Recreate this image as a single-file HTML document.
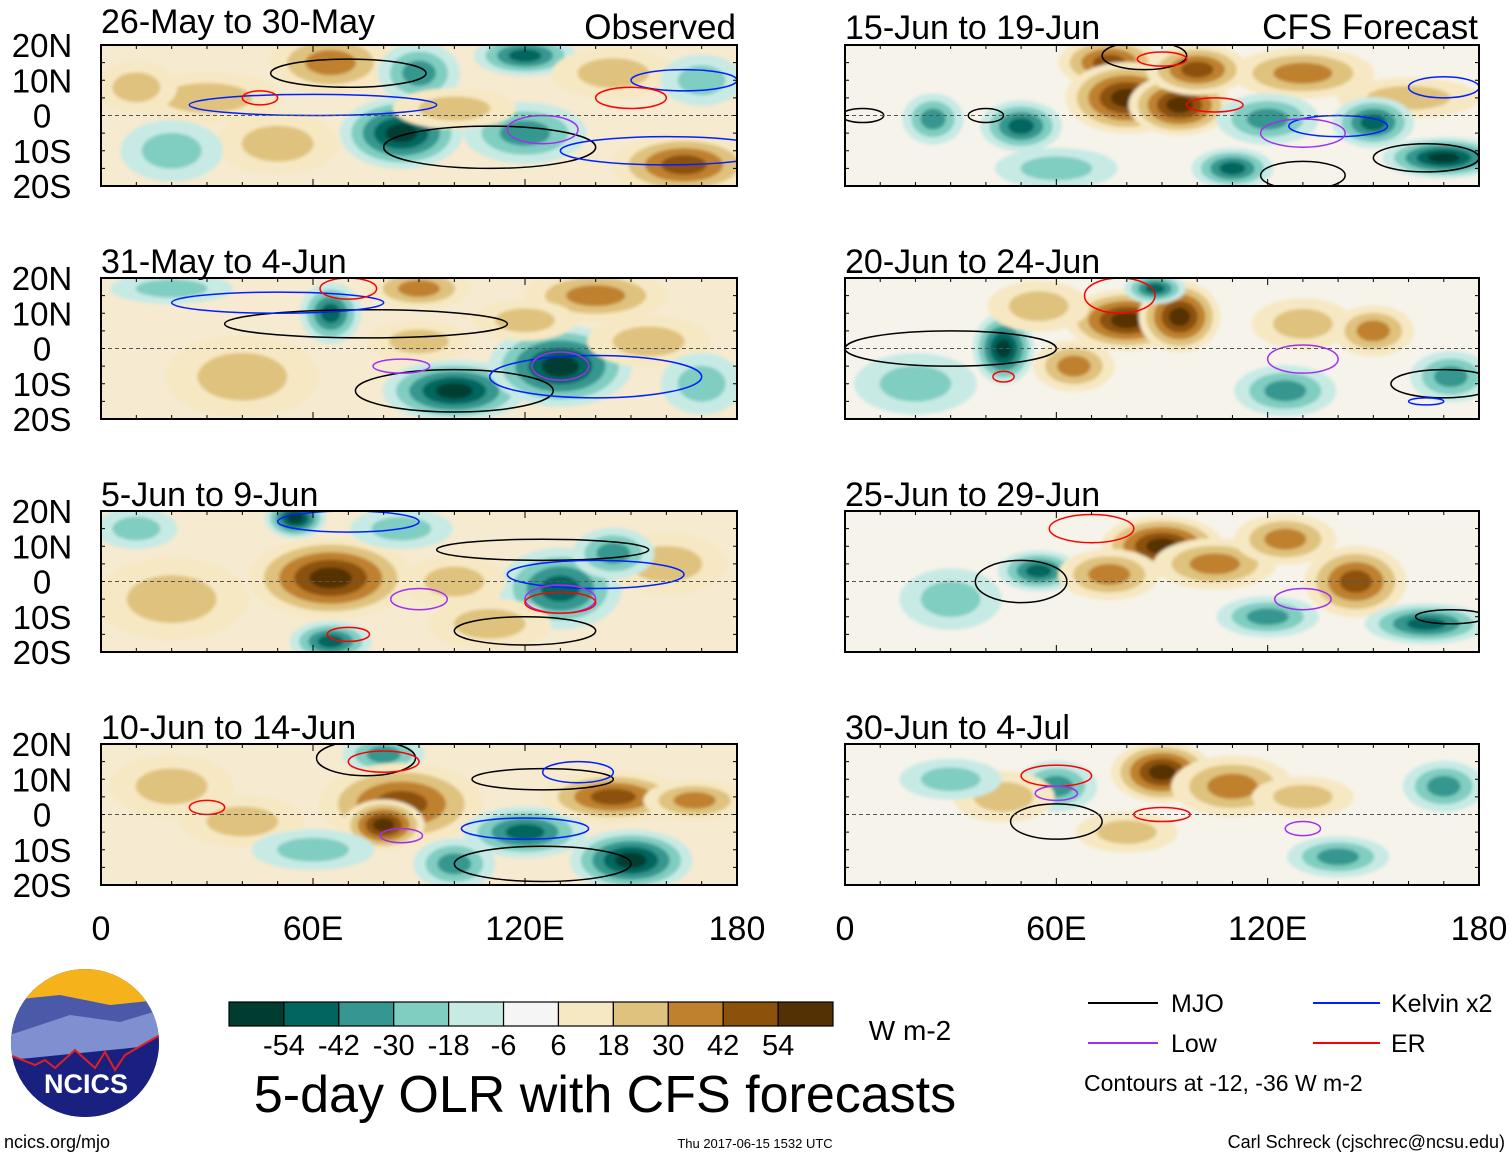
<!DOCTYPE html>
<html><head><meta charset="utf-8">
<style>
body{margin:0;background:#fff;width:1510px;height:1158px;overflow:hidden;font-family:"Liberation Sans",sans-serif}
svg{position:absolute;left:0;top:0}
</style></head>
<body>
<svg id="fig" width="1510" height="1158" viewBox="0 0 1510 1158">
<defs>
<filter id="blur" x="-10%" y="-10%" width="120%" height="120%"><feGaussianBlur stdDeviation="1.5"/></filter>
<clipPath id="logoClip"><circle cx="85" cy="1043" r="74"/></clipPath>
</defs>
<g id="panels"></g>
<g clip-path="url(#logoClip)">
<rect x="10" y="968" width="150" height="150" fill="#1a2080"/>
<rect x="10" y="968" width="150" height="40" fill="#f5b21a"/>
<path d="M10 1000 L60 995 L110 1005 L160 1000 L160 1030 L10 1040Z" fill="#4a5aa8"/>
<path d="M10 1035 L70 1015 L120 1022 L160 1010 L160 1045 L10 1060Z" fill="#7f90d0"/>
<path d="M10 1055 L35 1065 L45 1060 L55 1068 L75 1050 L95 1068 L105 1052 L115 1070 L125 1055 L160 1035 L160 1120 L10 1120Z" fill="#1a2080" stroke="#e02020" stroke-width="2"/>
</g>
<text x="86" y="1093" font-size="27" font-weight="bold" fill="#fff" text-anchor="middle">NCICS</text>
<text x="4" y="1148" font-size="18">ncics.org/mjo</text>
<text x="755" y="1148" font-size="13" text-anchor="middle">Thu 2017-06-15 1532 UTC</text>
<text x="1505" y="1148" font-size="18" text-anchor="end">Carl Schreck (cjschrec@ncsu.edu)</text>
<text x="605" y="1112" font-size="52" text-anchor="middle">5-day OLR with CFS forecasts</text>
<text x="910" y="1040" font-size="28" text-anchor="middle">W m-2</text>
<g id="cbar"></g>
<g font-size="25">
<line x1="1088" y1="1003" x2="1158" y2="1003" stroke="#000" stroke-width="2"/><text x="1171" y="1012">MJO</text>
<line x1="1313" y1="1003" x2="1380" y2="1003" stroke="#0020ff" stroke-width="2"/><text x="1391" y="1012">Kelvin x2</text>
<line x1="1088" y1="1043" x2="1158" y2="1043" stroke="#a030f0" stroke-width="2"/><text x="1171" y="1052">Low</text>
<line x1="1313" y1="1043" x2="1380" y2="1043" stroke="#ff0000" stroke-width="2"/><text x="1391" y="1052">ER</text>
<text x="1084" y="1091" font-size="23">Contours at -12, -36 W m-2</text>
</g>
</svg>
<script>
const NS='http://www.w3.org/2000/svg';
const colors=['#003c30','#01665e','#35978f','#80cdc1','#c7eae5','#f5f5f5','#f6e8c3','#dfc27d','#bf812d','#8c510a','#543005'];
const cbarLabels=['-54','-42','-30','-18','-6','6','18','30','42','54'];
const titles=['26-May to 30-May','31-May to 4-Jun','5-Jun to 9-Jun','10-Jun to 14-Jun','15-Jun to 19-Jun','20-Jun to 24-Jun','25-Jun to 29-Jun','30-Jun to 4-Jul'];
const latTicks=['20N','10N','0','10S','20S'];
const lonTicks=['0','60E','120E','180'];
// blobs: [lon, lat, rxDeg, ryDeg, level(-5..5)]
const blobs0=[[65,15,12,6,3],[90,12,8,6,-3],[85,-5,12,7,-5],[120,-5,12,6,-3],[165,-14,14,6,4],[30,5,15,5,2],[120,17,10,4,-4],[145,12,12,5,2],[50,-8,12,6,2],[10,8,8,5,2],[170,10,8,5,-2],[20,-10,10,6,-2],[100,2,12,4,2]];
const blobs1=[[65,10,6,6,-4],[90,17,10,4,3],[140,15,14,5,3],[100,-12,14,6,-5],[130,-5,14,8,-5],[90,2,10,4,2],[20,17,12,3,-2],[155,2,12,5,2],[40,-8,15,8,2],[170,-10,8,6,-2],[120,8,10,4,2]];
const blobs2=[[55,18,6,4,-5],[65,1,16,8,5],[130,-2,12,8,-4],[65,-17,8,4,-4],[100,0,10,5,2],[160,5,12,6,2],[145,8,8,5,-3],[20,-5,15,8,2],[110,-12,12,5,2],[10,15,8,4,-2],[85,15,10,4,-2]];
const blobs3=[[80,17,8,4,-3],[85,3,16,8,4],[80,-3,8,5,5],[120,-5,12,5,-4],[150,-13,12,6,-5],[145,5,14,5,4],[100,-14,8,5,-3],[168,4,10,4,3],[40,-2,12,5,2],[20,8,12,6,2],[60,-10,12,4,-2]];
const blobs4=[[75,15,10,5,4],[80,5,12,7,5],[95,3,10,6,5],[130,12,14,5,3],[160,5,14,4,2],[25,-1,6,5,-3],[50,-3,8,5,-4],[120,-1,10,5,-3],[150,-2,8,5,-4],[170,-12,12,4,-5],[110,-15,8,4,-4],[100,13,10,5,4],[60,-15,12,4,-2]];
const blobs5=[[45,0,6,7,-5],[80,8,12,6,5],[95,9,8,7,5],[88,17,6,3,-4],[65,-5,8,5,3],[125,-12,10,5,-3],[172,-8,8,5,-3],[130,7,10,5,2],[150,5,8,5,3],[55,12,10,5,2],[20,-10,12,6,-2]];
const blobs6=[[90,10,12,6,5],[105,5,12,5,3],[55,3,8,4,-4],[75,2,10,5,3],[145,0,10,7,4],[165,-12,12,4,-4],[120,-10,10,4,-3],[30,-5,10,6,-2],[125,12,10,5,3]];
const blobs7=[[90,12,10,6,5],[110,8,12,6,3],[60,8,8,5,-3],[140,-12,10,4,-3],[45,5,10,5,2],[170,8,8,5,-3],[80,-5,10,4,2],[130,5,10,4,2],[30,10,10,4,-2]];
const allBlobs=[blobs0,blobs1,blobs2,blobs3,blobs4,blobs5,blobs6,blobs7];
// contours: [lon, lat, rxDeg, ryDeg, color]
const cont0=[[70,12,22,4,'#000'],[110,-9,30,6,'#000'],[60,3,35,3,'#0020ff'],[160,-10,30,4,'#0020ff'],[165,10,15,3,'#0020ff'],[150,5,10,3,'#ff0000'],[45,5,5,2,'#ff0000'],[125,-4,10,4,'#a030f0']];
const cont1=[[100,-12,28,6,'#000'],[75,7,40,4,'#000'],[50,13,30,3,'#0020ff'],[140,-8,30,6,'#0020ff'],[85,-5,8,2,'#a030f0'],[130,-5,8,4,'#a030f0'],[70,17,8,3,'#ff0000']];
const cont2=[[125,9,30,3,'#000'],[120,-14,20,4,'#000'],[140,2,25,4,'#0020ff'],[70,17,20,3,'#0020ff'],[130,-5,10,4,'#a030f0'],[90,-5,8,3,'#a030f0'],[130,-6,10,3,'#ff0000'],[70,-15,6,2,'#ff0000']];
const cont3=[[75,16,14,5,'#000'],[125,-14,25,5,'#000'],[125,10,20,3,'#000'],[120,-4,18,3,'#0020ff'],[135,12,10,3,'#0020ff'],[85,-6,6,2,'#a030f0'],[80,15,10,3,'#ff0000'],[30,2,5,2,'#ff0000']];
const cont4=[[85,17,12,4,'#000'],[130,-17,12,4,'#000'],[165,-12,15,4,'#000'],[5,0,6,2,'#000'],[40,0,5,2,'#000'],[90,16,7,2,'#ff0000'],[105,3,8,2,'#ff0000'],[140,-3,14,3,'#0020ff'],[170,8,10,3,'#0020ff'],[130,-5,12,4,'#a030f0']];
const cont5=[[30,0,30,5,'#000'],[170,-10,15,4,'#000'],[78,15,10,5,'#ff0000'],[45,-8,3,1.5,'#ff0000'],[130,-3,10,4,'#a030f0'],[165,-15,5,1,'#0020ff']];
const cont6=[[50,0,13,6,'#000'],[70,15,12,4,'#ff0000'],[130,-5,8,3,'#a030f0'],[172,-10,10,2,'#000']];
const cont7=[[60,-2,13,5,'#000'],[60,11,10,3,'#ff0000'],[90,0,8,2,'#ff0000'],[60,6,6,2,'#a030f0'],[130,-4,5,2,'#a030f0']];
const allCont=[cont0,cont1,cont2,cont3,cont4,cont5,cont6,cont7];

const rowsY=[45,278,511,744],panelH=141;
const colsX=[[101,737],[845,1479]];
const grow=1.45;
function mk(tag,attrs,parent){const e=document.createElementNS(NS,tag);for(const k in attrs)e.setAttribute(k,attrs[k]);if(parent)parent.appendChild(e);return e;}
const root=document.getElementById('panels');
for(let p=0;p<8;p++){
  const col=p<4?0:1,row=p%4;
  const x0=colsX[col][0],x1=colsX[col][1],y0=rowsY[row],y1=y0+panelH;
  const xs=lon=>x0+(x1-x0)*lon/180, ys=lat=>y0+(20-lat)/40*panelH;
  const sx=(x1-x0)/180, sy=panelH/40;
  const g=mk('g',{},root);
  
  
  const cid='clip'+p;
  const cp=mk('clipPath',{id:cid},g);mk('rect',{x:x0,y:y0,width:x1-x0,height:panelH},cp);
  const inner=mk('g',{'clip-path':'url(#'+cid+')'},g);
  mk('rect',{x:x0,y:y0,width:x1-x0,height:panelH,fill:p<4?'#f6ead0':'#f6f3ea'},inner);
  const fg=mk('g',{filter:'url(#blur)'},inner);
  allBlobs[p].forEach(b=>{
    const [lon,lat,rx,ry,lev]=b;const n=Math.abs(lev);
    for(let k=1;k<=n;k++){
      const f=1-(k-1)/(n+0.4);
      const ci=lev>0?5+k:5-k;
      const el=mk('ellipse',{cx:xs(lon),cy:ys(lat),rx:rx*sx*f*grow,ry:ry*sy*f*grow,fill:colors[ci]},fg);
      
      
    }
  });
  allCont[p].forEach(c=>{
    const el=mk('ellipse',{cx:xs(c[0]),cy:ys(c[1]),rx:c[2]*sx,ry:c[3]*sy,fill:'none',stroke:c[4],'stroke-width':1.5},inner);
    
    
  });
  mk('line',{x1:x0,y1:ys(0),x2:x1,y2:ys(0),stroke:'#555','stroke-dasharray':'4,3','stroke-width':1},inner);
  mk('rect',{x:x0,y:y0,width:x1-x0,height:panelH,fill:'none',stroke:'#000','stroke-width':2},g);
  for(let lon=0;lon<=180;lon+=10){const tl=lon%60===0?7:4;mk('line',{x1:xs(lon),y1:y1,x2:xs(lon),y2:y1-tl,stroke:'#000'},g);mk('line',{x1:xs(lon),y1:y0,x2:xs(lon),y2:y0+tl,stroke:'#000'},g);}
  for(let lat=-20;lat<=20;lat+=5){mk('line',{x1:x0,y1:ys(lat),x2:x0+4,y2:ys(lat),stroke:'#000'},g);mk('line',{x1:x1,y1:ys(lat),x2:x1-4,y2:ys(lat),stroke:'#000'},g);}
  let ty=y0-5; if(row===0&&col===0) ty=33; if(row===0&&col===1) ty=39;
  const t=mk('text',{x:x0,y:ty,'font-size':34},g);t.textContent=titles[p];
  
  
  if(row===0){const s=mk('text',{x:x1-1,y:39,'font-size':35,'text-anchor':'end'},g);s.textContent=col===0?'Observed':'CFS Forecast';
    
    }
  if(col===0){latTicks.forEach((l,i)=>{const tt=mk('text',{x:42,y:y0+i*panelH/4+12,'font-size':33,'text-anchor':'middle'},g);tt.textContent=l;
    
    });}
  if(row===3){lonTicks.forEach((l,i)=>{const tt=mk('text',{x:xs(i*60),y:y1+55,'font-size':34,'text-anchor':'middle'},g);tt.textContent=l;
    
    });}
}
const cb=document.getElementById('cbar');


const cbx=229,cbw=604/11;
colors.forEach((c,i)=>{const r=mk('rect',{x:cbx+i*cbw,y:1002,width:cbw,height:24,fill:c,stroke:'#000','stroke-width':1.2},cb);
  
  });
cbarLabels.forEach((l,i)=>{const t=mk('text',{x:cbx+(i+1)*cbw,y:1055,'font-size':29,'text-anchor':'middle'},cb);t.textContent=l;
  
  });
</script>
</body></html>
